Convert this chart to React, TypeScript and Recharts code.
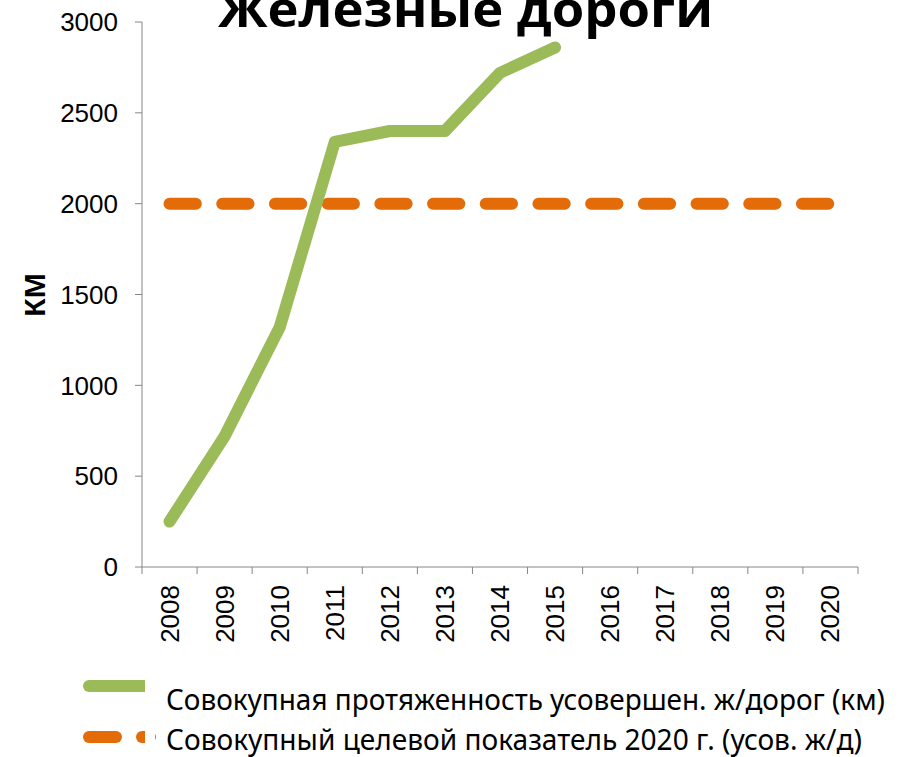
import { LineChart, Line, XAxis, YAxis } from 'recharts';

const years = ['2008', '2009', '2010', '2011', '2012', '2013', '2014', '2015', '2016', '2017', '2018', '2019', '2020'];
const improvedKm = [250, 720, 1320, 2340, 2400, 2400, 2720, 2860, null, null, null, null, null];
const targetKm = [2000, 2000, 2000, 2000, 2000, 2000, 2000, 2000, 2000, 2000, 2000, 2000, 2000];
const yTicks = [0, 500, 1000, 1500, 2000, 2500, 3000];

const seriesNames = [
  'Совокупная протяженность усовершен. ж/дорог (км)',
  'Совокупный целевой показатель 2020 г. (усов. ж/д)',
];

const GREEN = '#9BBB59';
const ORANGE = '#E36C09';
const AXIS = '#868686';

// plot box: x 142..858, y 22..567
const BAND = (858 - 142) / years.length;

const data = years.map((year, i) => ({
  year,
  improved: improvedKm[i],
  target: targetKm[i],
}));

// Excel-style tick: marks between categories, label rotated
function YearTick(props: any) {
  const { x, y, payload, index } = props;
  const last = index === years.length - 1;
  const tx = x + 9;
  const ty = y + 18;
  return (
    <g>
      <line x1={x - BAND / 2} y1={y} x2={x - BAND / 2} y2={y + 7} stroke={AXIS} />
      {last && <line x1={x + BAND / 2} y1={y} x2={x + BAND / 2} y2={y + 7} stroke={AXIS} />}
      <text
        x={tx}
        y={ty}
        transform={`rotate(-90, ${tx}, ${ty})`}
        textAnchor="end"
        fontFamily="'Liberation Sans', Arial, sans-serif"
        fontSize={26}
        fill="#000"
      >
        {payload.value}
      </text>
    </g>
  );
}

export default function App() {
  return (
    <div style={{ position: 'absolute', left: 0, top: 0, width: 899, height: 757, background: '#fff', overflow: 'hidden' }}>
      <LineChart width={899} height={660} data={data} margin={{ top: 22, right: 41, left: 0, bottom: 0 }}>
        <XAxis
          dataKey="year"
          height={93}
          stroke={AXIS}
          tickLine={false}
          tickSize={0}
          tickMargin={0}
          interval={0}
          padding={{ left: BAND / 2, right: BAND / 2 }}
          tick={<YearTick />}
        />
        <YAxis
          width={142}
          domain={[0, 3000]}
          ticks={yTicks}
          stroke={AXIS}
          tickSize={7}
          tickMargin={17}
          tick={{ fill: '#000', fontSize: 26, fontFamily: "'Liberation Sans', Arial, sans-serif" }}
        />
        <Line
          dataKey="target"
          stroke={ORANGE}
          strokeWidth={12}
          strokeLinecap="round"
          strokeDasharray="26.3 26.4"
          dot={false}
          isAnimationActive={false}
        />
        <Line
          dataKey="improved"
          stroke={GREEN}
          strokeWidth={12}
          strokeLinecap="round"
          strokeLinejoin="round"
          dot={false}
          isAnimationActive={false}
        />
        <text
          x={218}
          y={27}
          textLength={495}
          lengthAdjust="spacingAndGlyphs"
          fontFamily="'Open Sans', sans-serif"
          fontWeight="bold"
          fontSize={49}
          fill="#000"
        >
          Железные дороги
        </text>
        <text
          x={34}
          y={295}
          transform="rotate(-90, 34, 295)"
          textAnchor="middle"
          dominantBaseline="central"
          fontFamily="'Liberation Sans', Arial, sans-serif"
          fontWeight="bold"
          fontSize={30}
          fill="#000"
        >
          КМ
        </text>
      </LineChart>
      <svg width={899} height={97} style={{ position: 'absolute', left: 0, top: 660 }}>
        <line x1={89} y1={26} x2={145} y2={26} stroke={GREEN} strokeWidth={12} strokeLinecap="round" />
        <rect x={139} y={20} width={6} height={12} fill={GREEN} />
        <rect x={145} y={18} width={10} height={16} fill="#fff" />
        <line x1={89} y1={77} x2={116} y2={77} stroke={ORANGE} strokeWidth={12} strokeLinecap="round" />
        <line x1={142} y1={77} x2={150} y2={77} stroke={ORANGE} strokeWidth={12} strokeLinecap="round" />
        <rect x={145} y={68} width={10} height={18} fill="#fff" />
        <text x={166} y={50} textLength={719} lengthAdjust="spacingAndGlyphs" fontFamily="'Noto Sans', sans-serif" fontSize={29} fill="#000">
          {seriesNames[0]}
        </text>
        <text x={166} y={90} textLength={696} lengthAdjust="spacingAndGlyphs" fontFamily="'Noto Sans', sans-serif" fontSize={29} fill="#000">
          {seriesNames[1]}
        </text>
      </svg>
    </div>
  );
}
